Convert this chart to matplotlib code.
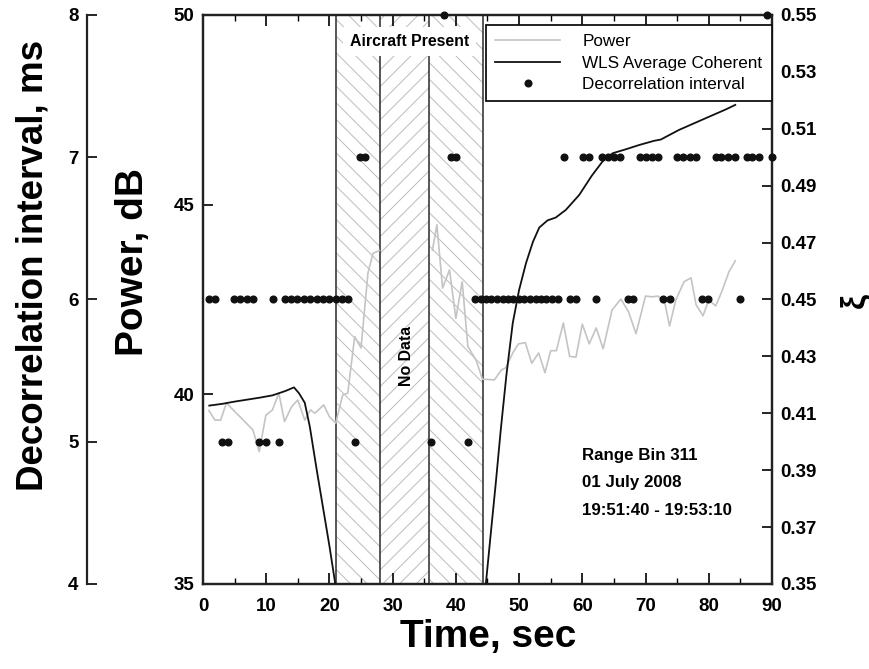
import matplotlib
matplotlib.use('Agg')
import matplotlib.pyplot as plt
import numpy as np
from matplotlib.lines import Line2D
from matplotlib.ticker import MultipleLocator

plt.rcParams['font.family'] = ['Liberation Sans', 'DejaVu Sans']
plt.rcParams['hatch.linewidth'] = 0.7

# ---------------- data ----------------
power_t = [0.95, 1.9, 2.8, 3.7, 5.0, 6.5, 7.9, 8.9, 9.95, 11, 12, 12.9, 14, 15, 16.1, 17, 17.7,
           19.1, 20, 21, 22.1, 22.9, 24, 25, 26.1, 26.9, 27.9, 32.0,
           36.3, 37, 37.9, 39, 40, 41, 41.9, 43.2, 44.2, 46.1, 47.2, 47.9, 49, 49.9, 51, 52,
           53.1, 54.1, 55, 55.9, 57, 58, 59, 60, 61.1, 62.2, 63.3, 64.7, 66.1, 67.3, 68.5, 70,
           71, 72, 73.1, 73.8, 74.8, 76.1, 77.2, 78, 79.1, 80, 81.1, 82, 83.2, 84.2]
power_db = [39.57, 39.32, 39.32, 39.77, 39.55, 39.30, 39.06, 38.49, 39.45, 39.59, 40.03, 39.28,
            39.67, 39.85, 39.32, 39.59, 39.50, 39.72, 39.41, 39.24, 39.98, 40.03, 41.52, 41.22,
            43.20, 43.72, 43.79, np.nan,
            43.80, 44.47, 42.80, 43.28, 42.00, 42.97, 41.26, 40.90, 40.40, 40.38, 40.64, 40.70,
            41.09, 41.33, 41.36, 40.82, 41.09, 40.57, 41.15, 41.15, 41.88, 41.00, 40.98, 41.85,
            41.33, 41.75, 41.20, 42.22, 42.51, 42.18, 41.60, 42.59, 42.57, 42.59, 42.38, 41.80,
            42.49, 42.97, 43.07, 42.36, 42.07, 42.49, 42.33, 42.68, 43.23, 43.52]

wls_t = [1, 3, 5, 7, 9, 11, 13, 14.4, 15.2, 16.1, 16.9, 18, 19, 20, 21.0, 32.0,
         44.7, 45.5, 46.3, 47.1, 48, 49, 50, 51.1, 52.2, 53.2, 54.5, 55.8, 57.4, 59.5, 61.5,
         63.2, 64.8, 66.9, 69, 71.4, 72.4, 75.3, 79.5, 82.7, 84.2]
wls_xi = [0.4127, 0.4133, 0.4141, 0.4148, 0.4155, 0.4163, 0.4178, 0.4191, 0.4170, 0.4137,
          0.4053, 0.3900, 0.3767, 0.3634, 0.3490, np.nan,
          0.3490, 0.3672, 0.3851, 0.4041, 0.4235, 0.4417, 0.4533, 0.4628, 0.4703, 0.4753,
          0.4778, 0.4788, 0.4815, 0.4867, 0.4935, 0.4985, 0.5014, 0.5028, 0.5043, 0.5058,
          0.5062, 0.5096, 0.5137, 0.5168, 0.5184]

dec_t = [0.95, 1.9, 4.9, 5.8, 6.9, 7.9, 11, 12.9, 13.9, 14.9, 16, 16.9, 18, 19, 19.9, 21, 22, 23,
         43.0, 43.9, 44.7, 45.6, 46.5, 47.4, 48.2, 49.1, 50.0, 50.8, 51.7, 52.6, 53.5, 54.3,
         55.2, 56.1, 58.1, 59.0, 62.1, 67.2, 68.1, 72.8, 73.9, 79.0, 79.9, 85.0,
         2.95, 3.9, 8.9, 9.95, 12, 24, 36, 42,
         24.8, 25.7, 39.2, 40, 57.1, 60.1, 61, 63.1, 64, 65, 66, 69.1, 70, 71, 72, 75, 76, 77,
         78, 81.1, 82, 83.1, 84.2, 86, 86.9, 88, 90,
         38.2, 89.2]
dec_ms = [6] * 44 + [5] * 8 + [7] * 27 + [8] * 2

region_edges = [21.0, 28.0, 35.8, 44.3]
region_hatch = ['\\\\', '//', '\\\\']

note_lines = ['Range Bin 311', '01 July 2008', '19:51:40 - 19:53:10']

# ---------------- figure ----------------
fig = plt.figure(figsize=(8.7, 6.69), dpi=100)
ax = fig.add_axes([0.2333, 0.1271, 0.6540, 0.8505])
ax_r = ax.twinx()
ax_d = ax.twinx()

TICK_FS = 13.5
spine_lw = 1.6


def style_labels(axis_obj):
    for lab in axis_obj.get_ticklabels():
        lab.set_fontsize(TICK_FS)
        lab.set_fontweight('bold')


# hatched regions
for i in range(3):
    ax.axvspan(region_edges[i], region_edges[i + 1], facecolor='none', edgecolor='#bcbcbc',
               linewidth=0, hatch=region_hatch[i], zorder=1)
for e in region_edges:
    ax.axvline(e, color='#3a3a3a', lw=1.2, zorder=2)

ax.text((region_edges[0] + region_edges[-1]) / 2, 49.3, 'Aircraft Present', ha='center',
        va='center', fontsize=11.4, fontweight='bold', zorder=5,
        bbox=dict(facecolor='white', edgecolor='none', pad=5))
ax.text(32.2, 41.0, 'No Data', rotation=90, ha='center', va='center', fontsize=11.4,
        fontweight='bold', zorder=5)

# power
ax.plot(power_t, power_db, color='#c4c4c4', lw=1.2, zorder=3)
ax.set_xlim(0, 90)
ax.set_ylim(35, 50)
ax.set_yticks([35, 40, 45, 50])
ax.xaxis.set_major_locator(MultipleLocator(10))
ax.xaxis.set_minor_locator(MultipleLocator(5))
ax.tick_params(axis='x', which='major', direction='in', length=8, width=1.2, top=True,
               bottom=True, pad=10, labelsize=TICK_FS)
ax.tick_params(axis='x', which='minor', direction='in', length=4, width=1.0, top=True,
               bottom=True)
ax.tick_params(axis='y', direction='in', length=7, width=1.2, pad=6, right=False,
               labelsize=TICK_FS)
style_labels(ax.xaxis)
style_labels(ax.yaxis)
for s in ax.spines.values():
    s.set_linewidth(spine_lw)
    s.set_color('#222222')

# xi axis (right)
ax_r.plot(wls_t, wls_xi, color='#111111', lw=1.3, zorder=3)
ax_r.set_ylim(0.35, 0.55)
xi_ticks = [0.35, 0.37, 0.39, 0.41, 0.43, 0.45, 0.47, 0.49, 0.51, 0.53, 0.55]
ax_r.set_yticks(xi_ticks)
ax_r.set_yticklabels(['%.2f' % v for v in xi_ticks])
ax_r.tick_params(axis='y', direction='in', length=7, width=1.2, pad=6, labelsize=TICK_FS)
style_labels(ax_r.yaxis)
for s in ax_r.spines.values():
    s.set_linewidth(spine_lw)
    s.set_color('#222222')

# decorrelation axis (far left)
ax_d.plot(dec_t, dec_ms, 'o', color='#111111', ms=4.8, clip_on=False, zorder=4)
ax_d.set_ylim(4, 8)
ax_d.spines['left'].set_position(('axes', -0.204))
ax_d.spines['left'].set_visible(True)
ax_d.spines['right'].set_visible(False)
ax_d.spines['top'].set_visible(False)
ax_d.spines['bottom'].set_visible(False)
ax_d.spines['left'].set_linewidth(spine_lw)
ax_d.spines['left'].set_color('#222222')
ax_d.yaxis.set_ticks_position('left')
ax_d.set_yticks([4, 5, 6, 7, 8])
ax_d.set_yticklabels(['4', '5', '6', '7', '8'])
ax_d.tick_params(axis='y', direction='in', length=7, width=1.2, pad=6, labelsize=TICK_FS)
style_labels(ax_d.yaxis)

# legend
handles = [Line2D([], [], color='#c4c4c4', lw=1.2),
           Line2D([], [], color='#111111', lw=1.3),
           Line2D([], [], ls='none', marker='o', color='#111111', ms=4.8)]
leg = ax_d.legend(handles, ['Power', 'WLS Average Coherent', 'Decorrelation interval'],
                  loc='upper right', bbox_to_anchor=(1.0, 1 - 10 / 569), borderaxespad=0,
                  fancybox=False, framealpha=1, edgecolor='#111111', fontsize=12.3,
                  handlelength=3.8, handletextpad=1.3, borderpad=0.55, labelspacing=0.36)
leg.get_frame().set_linewidth(1.3)

# annotation
for i, txt in enumerate(note_lines):
    ax_d.text(0.666, 0.225 - i * 0.0475, txt, transform=ax_d.transAxes, ha='left',
              va='center', fontsize=12.2, fontweight='bold')

# axis labels
fig.text(488 / 870, 1 - 637 / 669, 'Time, sec', ha='center', va='center', fontsize=28,
         fontweight='bold')
fig.text(133 / 870, 1 - 262 / 669, 'Power, dB', ha='center', va='center', fontsize=28,
         fontweight='bold', rotation=90)
fig.text(33 / 870, 1 - 265 / 669, 'Decorrelation interval, ms', ha='center', va='center',
         fontsize=26.5, fontweight='bold', rotation=90)
fig.text(855 / 870, 1 - 300 / 669, 'ξ', ha='center', va='center', fontsize=24,
         fontweight='bold', rotation=90)

fig.savefig('out.png', dpi=100)
